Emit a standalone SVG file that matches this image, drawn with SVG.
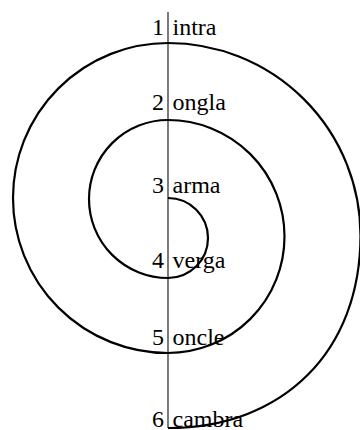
<svg xmlns="http://www.w3.org/2000/svg" width="360" height="430" viewBox="0 0 360 430">
<style>
text{font-family:"Liberation Serif","Times New Roman",serif;font-size:24px;fill:#000}
.n{text-anchor:end}
.axis{stroke:#333;stroke-width:1.3;fill:none}
.spiral{stroke:#000;stroke-width:2.2;fill:none}
</style>
<rect width="360" height="430" fill="#fff"/>
<g id="connectors">
<line class="axis" x1="168" y1="12" x2="168" y2="428"/>
<path class="spiral" d="M168,198 A40,40 0 0 1 168,278 A79,79 0 0 1 168,120 A116.5,116.5 0 0 1 168,353 A155,155 0 0 1 168,43 A192.5,192.5 0 0 1 360.5,235.5 C360.5,351 283.5,428 168,428"/>
</g>
<g id="n1"><text class="n" x="164" y="34.5">1</text><text x="172.5" y="34.5">intra</text></g>
<g id="n2"><text class="n" x="164" y="110">2</text><text x="172.5" y="110">ongla</text></g>
<g id="n3"><text class="n" x="164" y="192.5">3</text><text x="172.5" y="192.5">arma</text></g>
<g id="n4"><text class="n" x="164" y="267.5">4</text><text x="172.5" y="267.5">verga</text></g>
<g id="n5"><text class="n" x="164" y="345">5</text><text x="172.5" y="345">oncle</text></g>
<g id="n6"><text class="n" x="164" y="426.5">6</text><text x="172.5" y="426.5">cambra</text></g>
</svg>
